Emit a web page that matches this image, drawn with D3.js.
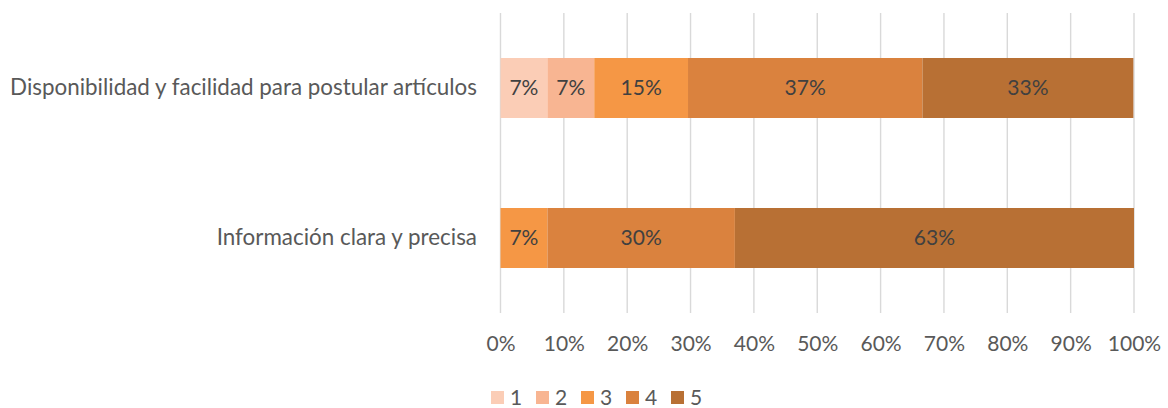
<!DOCTYPE html>
<html>
<head>
<meta charset="utf-8">
<script src="https://cdn.jsdelivr.net/npm/d3@7"></script>
<style>
  html, body { margin: 0; padding: 0; background: #fff; }
  svg text { font-family: Lato, "Open Sans", sans-serif; }
</style>
</head>
<body>
<svg id="chart" width="1168" height="408"></svg>
<script>
// Survey ratings (1 = lowest, 5 = highest), share of respondents in %
const categories = [
  "Disponibilidad y facilidad para postular artículos",
  "Información clara y precisa"
];
const seriesNames = ["1", "2", "3", "4", "5"];
const rating1 = [7.4, 0];
const rating2 = [7.4, 0];
const rating3 = [14.8, 7.4];
const rating4 = [37.0, 29.6];
const rating5 = [33.3, 63.0];
const tickValues = [0, 10, 20, 30, 40, 50, 60, 70, 80, 90, 100];
const colors = ["#FBCDB6", "#F8B592", "#F59745", "#DA823E", "#B87034"];

const seriesValues = [rating1, rating2, rating3, rating4, rating5];
const rows = categories.map((c, i) => {
  const r = { category: c };
  seriesNames.forEach((s, j) => { r[s] = seriesValues[j][i]; });
  return r;
});

const svg = d3.select("#chart");
const fontSize = 21;
const categoryFontSize = 22.4;

const x = d3.scaleLinear().domain([0, 100]).range([500.5, 1134]);
const y = d3.scaleBand().domain(categories).range([13, 313])
  .paddingInner(0.6).paddingOuter(0.3);
const color = d3.scaleOrdinal().domain(seriesNames).range(colors);

// vertical gridlines
svg.append("g").selectAll("line").data(tickValues).join("line")
  .attr("x1", d => x(d)).attr("x2", d => x(d))
  .attr("y1", 13).attr("y2", 313)
  .attr("stroke", "#D9D9D9").attr("stroke-width", 1.4);

// stacked bars
const stacked = d3.stack().keys(seriesNames)(rows);
const layers = svg.append("g").selectAll("g").data(stacked).join("g")
  .attr("fill", d => color(d.key));
layers.selectAll("rect").data(d => d.filter(p => p[1] - p[0] > 0)).join("rect")
  .attr("x", d => x(d[0]))
  .attr("width", d => x(d[1]) - x(d[0]))
  .attr("y", d => y(d.data.category))
  .attr("height", y.bandwidth());

// value labels inside segments
layers.selectAll("text").data(d => d.filter(p => p[1] - p[0] > 0)).join("text")
  .attr("x", d => (x(d[0]) + x(d[1])) / 2)
  .attr("y", d => y(d.data.category) + y.bandwidth() / 2)
  .attr("dy", "0.35em")
  .attr("text-anchor", "middle")
  .attr("font-size", fontSize)
  .attr("fill", "#404040")
  .text(d => Math.round(d[1] - d[0]) + "%");

// x axis tick labels (no domain line)
const xAxis = svg.append("g")
  .attr("transform", "translate(0,330)")
  .call(d3.axisBottom(x).tickValues(tickValues).tickSize(0).tickFormat(d => d + "%"));
xAxis.select(".domain").remove();
xAxis.selectAll("text")
  .attr("font-size", fontSize)
  .attr("font-family", "Lato, 'Open Sans', sans-serif")
  .attr("fill", "#595959")
  .attr("y", 0).attr("dy", "0.35em")
  .attr("transform", "translate(0,14)");

// category labels
const yAxis = svg.append("g")
  .attr("transform", "translate(477,0)")
  .call(d3.axisLeft(y).tickSize(0).tickPadding(0));
yAxis.select(".domain").remove();
yAxis.selectAll("text")
  .attr("font-size", categoryFontSize)
  .attr("font-family", "Lato, 'Open Sans', sans-serif")
  .attr("fill", "#595959");

// legend
const legend = svg.append("g").attr("transform", "translate(491,391)");
const item = legend.selectAll("g").data(seriesNames).join("g")
  .attr("transform", (d, i) => `translate(${i * 45},0)`);
item.append("rect").attr("width", 13).attr("height", 13).attr("fill", d => color(d));
item.append("text").attr("x", 19).attr("y", 6.5).attr("dy", "0.35em")
  .attr("font-size", fontSize).attr("fill", "#595959").text(d => d);
</script>
</body>
</html>
